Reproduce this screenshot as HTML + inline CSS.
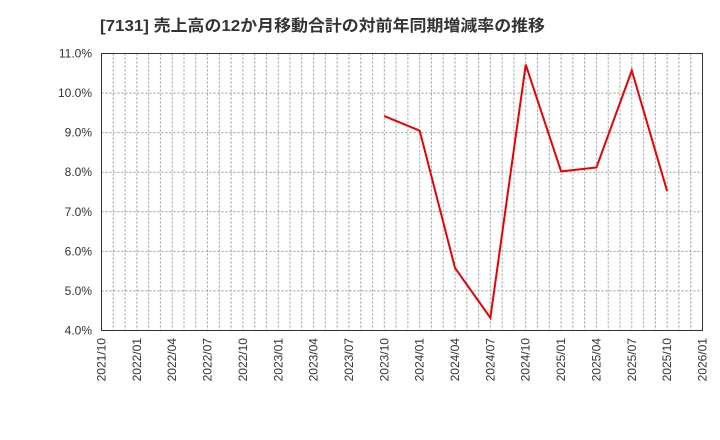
<!DOCTYPE html>
<html><head><meta charset="utf-8"><style>
html,body{margin:0;padding:0;background:#fff;width:720px;height:440px;overflow:hidden}
</style></head><body>
<svg width="720" height="440" xmlns="http://www.w3.org/2000/svg" font-family="Liberation Sans, Noto Sans CJK JP, sans-serif">
<text x="100" y="31" font-size="16" font-weight="bold" fill="#333" textLength="445" lengthAdjust="spacingAndGlyphs" font-family="Liberation Sans, Noto Sans CJK JP, sans-serif">[7131]  売上高の12か月移動合計の対前年同期増減率の推移</text>
<g id="grid" stroke="#999" stroke-width="1" stroke-dasharray="2,2"></g>
<rect x="101.5" y="53.5" width="601" height="277" fill="none" stroke="#333" stroke-width="1"/>
<g id="yl" font-size="12" fill="#333" text-anchor="end"></g>
<g id="xl" font-size="12" fill="#333"></g>
<polyline fill="none" stroke="#e00" stroke-width="2" id="ln"/>
</svg>
<script>
var ns="http://www.w3.org/2000/svg";
var g=document.getElementById('grid'),yl=document.getElementById('yl'),xl=document.getElementById('xl');
var L=101.5,R=702.5,T=53.5,B=330.5;
function Y(v){return B-(v-4)*(B-T)/7;}
for(var m=1;m<51;m++){var x=L+m*(R-L)/51;var l=document.createElementNS(ns,'line');l.setAttribute('x1',x);l.setAttribute('x2',x);l.setAttribute('y1',T);l.setAttribute('y2',B);g.appendChild(l);}
for(var v=4;v<=11;v++){var y=Y(v);if(v>4&&v<11){var l=document.createElementNS(ns,'line');l.setAttribute('x1',L);l.setAttribute('x2',R);l.setAttribute('y1',y);l.setAttribute('y2',y);g.appendChild(l);}
var t=document.createElementNS(ns,'text');t.setAttribute('x',92);t.setAttribute('y',y+4);t.textContent=v.toFixed(1)+'%';yl.appendChild(t);}
var labs=[];for(var i=0;i<18;i++){var mo=10+3*i;var yr=2021+Math.floor((mo-1)/12);var mm=((mo-1)%12)+1;labs.push(yr+'/'+(mm<10?'0':'')+mm);}
labs.forEach(function(s,i){var x=L+i*(R-L)/17;var t=document.createElementNS(ns,'text');t.setAttribute('transform','translate('+(x+4)+',338) rotate(-90)');t.setAttribute('text-anchor','end');t.textContent=s;xl.appendChild(t);});
var d=[9.42,9.05,5.58,4.32,10.72,8.02,8.12,10.57,7.52],p=[];
d.forEach(function(v,i){p.push((L+(8+i)*(R-L)/17)+','+Y(v));});
document.getElementById('ln').setAttribute('points',p.join(' '));
</script>
</body></html>
